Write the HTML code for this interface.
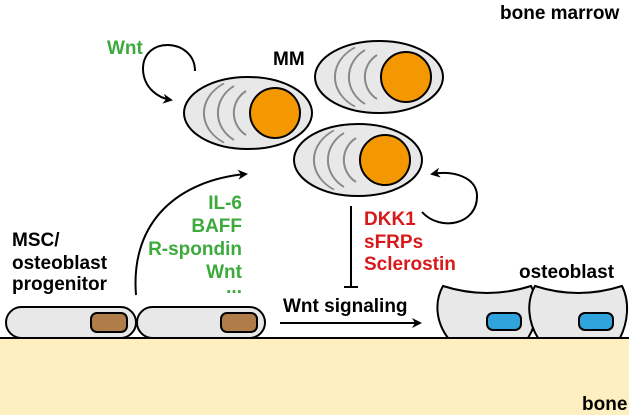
<!DOCTYPE html>
<html><head><style>body{margin:0;background:#fff}svg{display:block}text{font-family:"Liberation Sans",sans-serif;font-weight:bold;font-size:19px}</style></head><body>
<svg width="629" height="415" viewBox="0 0 629 415" xmlns="http://www.w3.org/2000/svg">
<defs>
<marker id="ah" markerWidth="10" markerHeight="10" refX="8" refY="5" orient="auto" markerUnits="userSpaceOnUse"><path d="M0,0 L10,5 L0,10 L3,5 Z" fill="#000"/></marker>
<g id="mm">
<ellipse cx="0" cy="0" rx="64" ry="36" fill="#e8e8e8" stroke="#000" stroke-width="2"/>
<path d="M-20,-38 A46,46 0 0 0 -20,38" transform="translate(-4,0) scale(1,0.78)" fill="none" stroke="#888" stroke-width="2"/>
<path d="M-12,-30 A36,36 0 0 0 -12,30" transform="translate(-2,0) scale(1,0.9)" fill="none" stroke="#888" stroke-width="2"/>
<path d="M-2,-22 A26,26 0 0 0 -2,22" fill="none" stroke="#888" stroke-width="2"/>
<circle cx="27" cy="0" r="25" fill="#f39800" stroke="#000" stroke-width="2"/>
</g>
</defs>
<rect x="0" y="338" width="629" height="77" fill="#fdefbf"/>
<line x1="0" y1="338" x2="629" y2="338" stroke="#000" stroke-width="2"/>
<text x="500" y="19">bone marrow</text>
<text x="582" y="410">bone</text>
<use href="#mm" x="379" y="77"/>
<use href="#mm" x="248" y="113"/>
<use href="#mm" x="358" y="160"/>
<text x="273" y="65">MM</text>
<text x="107" y="54" fill="#3caa3c">Wnt</text>
<path d="M195,71 C195,38 142,35 143,70 C144,88 158,98 171,100" fill="none" stroke="#000" stroke-width="2" marker-end="url(#ah)"/>
<path d="M422,212 C440,232 478,225 477,195 C476,178 455,170 432,174" fill="none" stroke="#000" stroke-width="2" marker-end="url(#ah)"/>
<path d="M136,295 C130,220 180,180 246,174" fill="none" stroke="#000" stroke-width="2" marker-end="url(#ah)"/>
<g text-anchor="end" fill="#3caa3c"><text x="242" y="209">IL-6</text><text x="242" y="232">BAFF</text><text x="242" y="255">R-spondin</text><text x="242" y="278">Wnt</text><text x="242" y="293">...</text></g>
<g fill="#d7191c"><text x="364" y="225">DKK1</text><text x="364" y="248">sFRPs</text><text x="364" y="270">Sclerostin</text></g>
<line x1="351" y1="206" x2="351" y2="287" stroke="#000" stroke-width="2"/>
<line x1="344" y1="287" x2="358" y2="287" stroke="#000" stroke-width="2"/>
<text x="12" y="246">MSC/</text><text x="12" y="269">osteoblast</text><text x="12" y="290">progenitor</text>
<rect x="6" y="307" width="130" height="31" rx="15.5" fill="#e8e8e8" stroke="#000" stroke-width="2"/>
<rect x="137" y="307" width="128" height="31" rx="15.5" fill="#e8e8e8" stroke="#000" stroke-width="2"/>
<rect x="91" y="313" width="36" height="19" rx="6" fill="#b07c47" stroke="#000" stroke-width="2"/>
<rect x="221" y="313" width="36" height="19" rx="6" fill="#b07c47" stroke="#000" stroke-width="2"/>
<text x="283" y="312">Wnt signaling</text>
<line x1="280" y1="323" x2="420" y2="323" stroke="#000" stroke-width="2" marker-end="url(#ah)"/>
<text x="519" y="278">osteoblast</text>
<path d="M448,338 C436,322 434,302 443,286 Q487,300 531,286 C540,302 538,322 528,338 Z" fill="#e8e8e8" stroke="#000" stroke-width="2"/>
<path d="M538,338 C528,322 526,302 535,286 Q578,300 622,286 C630,302 628,322 620,338 Z" fill="#e8e8e8" stroke="#000" stroke-width="2"/>
<rect x="487" y="313" width="34" height="17" rx="6" fill="#2ea3dc" stroke="#000" stroke-width="2"/>
<rect x="579" y="313" width="34" height="17" rx="6" fill="#2ea3dc" stroke="#000" stroke-width="2"/>
</svg>
</body></html>
